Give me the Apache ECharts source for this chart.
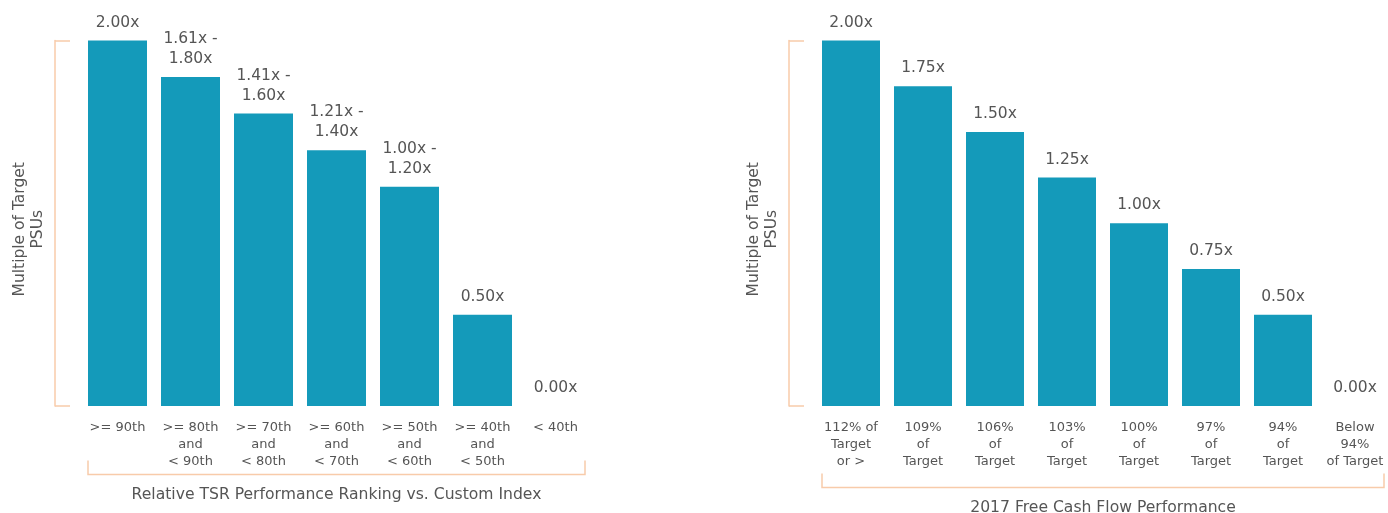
<!DOCTYPE html>
<html><head><meta charset="utf-8">
<script src="https://cdn.jsdelivr.net/npm/echarts@6/dist/echarts.min.js"></script>
<style>html,body{margin:0;padding:0;background:#fff}#c{width:1388px;height:513px}</style>
</head><body><div id="c"></div>
<script>
const leftCategories = ['>= 90th', '>= 80th\nand\n< 90th', '>= 70th\nand\n< 80th', '>= 60th\nand\n< 70th', '>= 50th\nand\n< 60th', '>= 40th\nand\n< 50th', '< 40th'];
const leftValues = [2.0, 1.8, 1.6, 1.4, 1.2, 0.5, 0];
const leftLabels = ['2.00x', '1.61x -\n1.80x', '1.41x -\n1.60x', '1.21x -\n1.40x', '1.00x -\n1.20x', '0.50x', '0.00x'];
const rightCategories = ['112% of\nTarget\nor >', '109%\nof\nTarget', '106%\nof\nTarget', '103%\nof\nTarget', '100%\nof\nTarget', '97%\nof\nTarget', '94%\nof\nTarget', 'Below\n94%\nof Target'];
const rightValues = [2.0, 1.75, 1.5, 1.25, 1.0, 0.75, 0.5, 0];
const rightLabels = ['2.00x', '1.75x', '1.50x', '1.25x', '1.00x', '0.75x', '0.50x', '0.00x'];
const yAxisTitle = 'Multiple of Target\nPSUs';
const leftXTitle = 'Relative TSR Performance Ranking vs. Custom Index';
const rightXTitle = '2017 Free Cash Flow Performance';

const FONT = 'DejaVu Sans';
const BAR = '#149aba';
const BRACKET = '#f8cbaa';
const TXT = '#555';

const chart = echarts.init(document.getElementById('c'), null, {renderer: 'canvas'});

function xAxis(gridIndex, cats, title, gap) {
  return {
    type: 'category', gridIndex, data: cats,
    axisLine: {show: false}, axisTick: {show: false},
    axisLabel: {color: '#555', fontFamily: FONT, fontSize: 13, lineHeight: 17, margin: 13, interval: 0},
    name: title, nameLocation: 'middle', nameGap: gap,
    nameTextStyle: {color: TXT, fontFamily: FONT, fontSize: 15.6}
  };
}
function yAxis(gridIndex) {
  return {
    type: 'value', gridIndex, min: 0, max: 2, interval: 2, offset: 26,
    axisLine: {show: true, lineStyle: {color: BRACKET, width: 1.5}},
    axisTick: {show: true, inside: true, length: 15, lineStyle: {color: BRACKET, width: 1.5}},
    axisLabel: {show: false}, splitLine: {show: false},
    name: yAxisTitle, nameLocation: 'middle', nameRotate: 90, nameGap: 8,
    nameTextStyle: {color: TXT, fontFamily: FONT, fontSize: 15.5, lineHeight: 18, padding: [0, 12, 0, 0]}
  };
}
function series(i, vals, labels, barW) {
  return {
    type: 'bar', xAxisIndex: i, yAxisIndex: i, barWidth: barW,
    data: vals, itemStyle: {color: BAR},
    label: {show: true, position: 'top', distance: 8, color: TXT, fontFamily: FONT, fontSize: 15.5, lineHeight: 20,
      formatter: p => labels[p.dataIndex]}
  };
}

chart.setOption({
  animation: false,
  grid: [
    {left: 81, width: 511, top: 40.5, height: 365.5, containLabel: false, outerBoundsMode: 'none'},
    {left: 815, width: 576, top: 40.5, height: 365.5, containLabel: false, outerBoundsMode: 'none'}
  ],
  xAxis: [xAxis(0, leftCategories, leftXTitle, 81), xAxis(1, rightCategories, rightXTitle, 94)],
  yAxis: [yAxis(0), yAxis(1)],
  series: [series(0, leftValues, leftLabels, 59), series(1, rightValues, rightLabels, 58)]
});

function bracket(idx, cats, barW, y, h) {
  const x0 = chart.convertToPixel({xAxisIndex: idx}, cats[0]) - barW / 2;
  const x1 = chart.convertToPixel({xAxisIndex: idx}, cats[cats.length - 1]) + barW / 2;
  return {type: 'polyline', silent: true,
    shape: {points: [[x0, y - h], [x0, y], [x1, y], [x1, y - h]]},
    style: {stroke: BRACKET, lineWidth: 1.5, fill: null}};
}
chart.setOption({graphic: [
  bracket(0, leftCategories, 59, 474.5, 14),
  bracket(1, rightCategories, 58, 487.5, 14)
]});
</script></body></html>
